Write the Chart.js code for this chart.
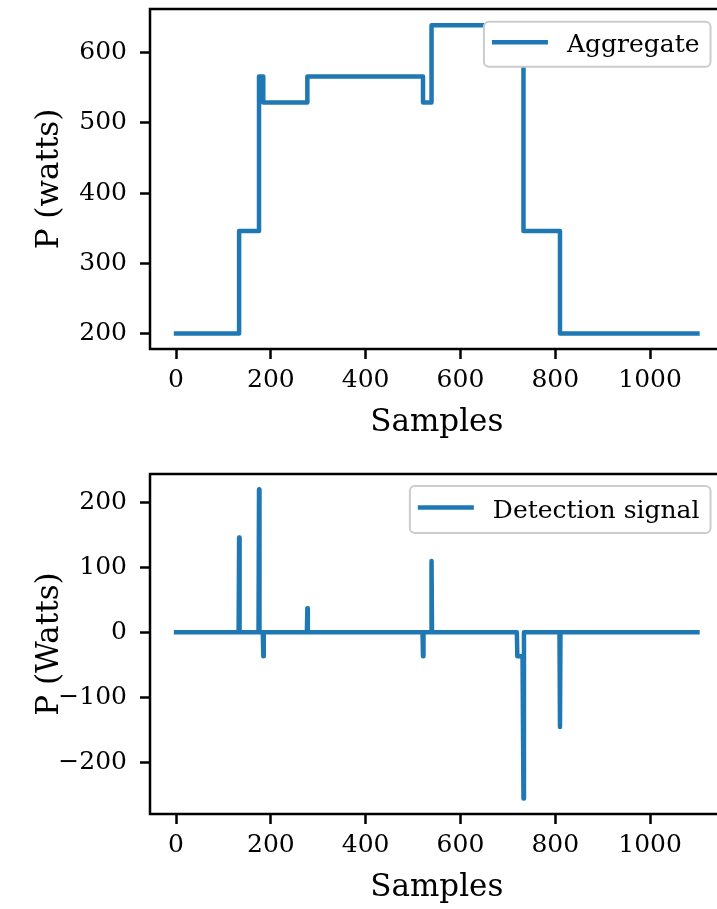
<!DOCTYPE html>
<html>
<head>
<meta charset="utf-8">
<script src="https://cdn.jsdelivr.net/npm/chart.js@4.4.1/dist/chart.umd.min.js"></script>
<style>
  html, body { margin: 0; padding: 0; background: #fff; overflow: hidden; }
  body { width: 717px; height: 909px; position: relative; }
  canvas { position: absolute; left: 0; }
  #aggChart { top: 0; }
  #detChart { top: 465px; }
</style>
</head>
<body>
<canvas id="aggChart" width="740" height="442"></canvas>
<canvas id="detChart" width="740" height="442"></canvas>
<script>
// aggregate power: value holds from each sample until the next one
const aggSamples = [0, 133, 175, 184, 277, 521, 539, 720, 733, 810, 1100];
const aggWatts   = [200, 346, 566, 529, 566, 529, 639, 602, 346, 200, 200];

// detection signal: zero except at the switching events
const detSamples = [0, 132, 133, 134, 174, 175, 176, 183, 184, 185, 276, 277, 278,
                    520, 521, 522, 538, 539, 540, 719, 720, 731, 733, 734, 809, 810, 811, 1100];
const detWatts   = [0, 0, 146, 0, 0, 220, 0, 0, -37, 0, 0, 37, 0,
                    0, -37, 0, 0, 110, 0, 0, -37, -37, -256, 0, 0, -146, 0, 0];

const xTicks = [0, 200, 400, 600, 800, 1000];
const aggTicks = [200, 300, 400, 500, 600];
const detTicks = [-200, -100, 0, 100, 200];

const BLUE = '#1f77b4';
const SERIF = 'DejaVu Serif';

Chart.defaults.font.family = SERIF;
Chart.defaults.color = '#000';
Chart.defaults.animation = false;

// black box round the plot area
const frame = {
    id: 'frame',
    afterDatasetsDraw(chart) {
        const { ctx, chartArea: a } = chart;
        ctx.save();
        ctx.strokeStyle = '#000';
        ctx.lineWidth = 2.5;
        ctx.strokeRect(a.left, a.top, a.right - a.left, a.bottom - a.top);
        ctx.restore();
    }
};

// matplotlib-like legend in the upper right corner
const boxLegend = {
    id: 'boxLegend',
    afterDraw(chart, args, opts) {
        const { ctx, chartArea: a } = chart;
        const ds = chart.data.datasets[0];
        ctx.save();
        ctx.font = `${opts.size}px "${SERIF}"`;
        const tw = ctx.measureText(ds.label).width;
        const w = 8 + 56 + 19 + tw + 11;
        const h = opts.height;
        const x = a.right - 13 - w;
        const y = a.top + opts.top;
        ctx.beginPath();
        ctx.roundRect(x, y, w, h, 5);
        ctx.fillStyle = '#fff';
        ctx.fill();
        ctx.lineWidth = 2;
        ctx.strokeStyle = '#cccccc';
        ctx.stroke();

        ctx.beginPath();
        ctx.moveTo(x + 8, y + h / 2 - 2);
        ctx.lineTo(x + 64, y + h / 2 - 2);
        ctx.strokeStyle = ds.borderColor;
        ctx.lineWidth = 4.5;
        ctx.stroke();

        ctx.fillStyle = '#000';
        ctx.textBaseline = 'alphabetic';
        ctx.fillText(ds.label, x + 83, y + h / 2 + 8);
        ctx.restore();
    }
};

function plot(id, samples, watts, label, yTicks, yMin, yMax, yTitle, stepped, legendTop, legendHeight) {
    return new Chart(document.getElementById(id), {
        type: 'line',
        data: {
            datasets: [{
                label,
                data: samples.map((x, i) => ({ x, y: watts[i] })),
                borderColor: BLUE,
                borderWidth: 4.5,
                pointRadius: 0,
                stepped,
                fill: false,
                borderJoinStyle: 'round',
                borderCapStyle: 'square'
            }]
        },
        options: {
            responsive: false,
            layout: { padding: { top: 9, left: 0, right: 16.5, bottom: 0 } },
            plugins: {
                legend: { display: false },
                tooltip: { enabled: false },
                boxLegend: { size: 25, top: legendTop, height: legendHeight }
            },
            scales: {
                x: {
                    type: 'linear',
                    min: -55,
                    max: 1155,
                    afterBuildTicks: s => { s.ticks = xTicks.map(v => ({ value: v })); },
                    afterFit: s => { s.height = 93; s.paddingLeft = 0; s.paddingRight = 0; },
                    grid: { drawOnChartArea: false, drawTicks: true, tickLength: 10, tickWidth: 2.5, tickColor: '#000' },
                    border: { display: false },
                    ticks: {
                        font: { size: 25 }, padding: 6, autoSkip: false, maxRotation: 0, color: '#000',
                        callback: v => String(v)
                    },
                    title: { display: true, text: 'Samples', font: { size: 31 }, padding: 0, color: '#000' }
                },
                y: {
                    min: yMin,
                    max: yMax,
                    afterBuildTicks: s => { s.ticks = yTicks.map(v => ({ value: v })); },
                    afterFit: s => { s.width = 150; s.paddingTop = 0; s.paddingBottom = 0; },
                    grid: { drawOnChartArea: false, drawTicks: true, tickLength: 10, tickWidth: 2.5, tickColor: '#000' },
                    border: { display: false },
                    ticks: {
                        font: { size: 25 }, padding: 13, color: '#000',
                        callback: v => String(v).replace('-', '\u2212')
                    },
                    title: { display: true, text: yTitle, font: { size: 31 }, padding: { top: 31, bottom: 0 }, color: '#000' }
                }
            }
        },
        plugins: [frame, boxLegend]
    });
}

plot('aggChart', aggSamples, aggWatts, 'Aggregate', aggTicks, 178, 662, 'P (watts)', true, 12.7, 45);
plot('detChart', detSamples, detWatts, 'Detection signal', detTicks, -280, 244, 'P (Watts)', false, 12, 47);
</script>
</body>
</html>
